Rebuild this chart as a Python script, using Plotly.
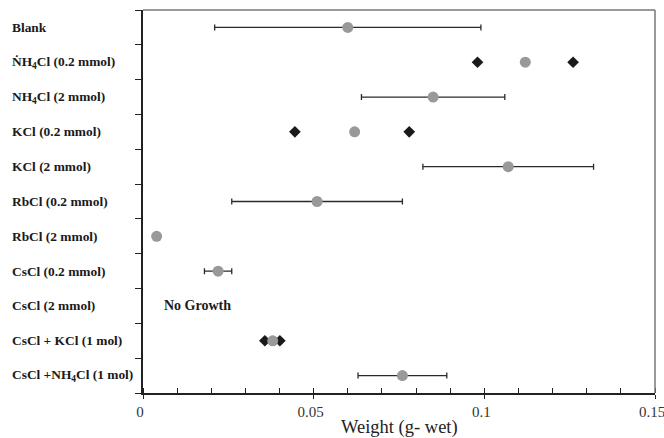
import plotly.graph_objects as go

categories = [
    "Blank",
    "ṄH<sub>4</sub>Cl (0.2 mmol)",
    "NH<sub>4</sub>Cl (2 mmol)",
    "KCl (0.2 mmol)",
    "KCl (2 mmol)",
    "RbCl (0.2 mmol)",
    "RbCl (2 mmol)",
    "CsCl (0.2 mmol)",
    "CsCl (2 mmol)",
    "CsCl + KCl (1 mol)",
    "CsCl +NH<sub>4</sub>Cl (1 mol)",
]
means = [0.060, 0.112, 0.085, 0.062, 0.107, 0.051, 0.004, 0.022, None, 0.038, 0.076]
errors = [0.039, None, 0.021, None, 0.025, 0.025, None, 0.004, None, None, 0.013]
range_min = [None, 0.098, None, 0.0445, None, None, None, None, None, 0.0357, None]
range_max = [None, 0.126, None, 0.078, None, None, None, None, None, 0.0401, None]
xtick_vals = [0, 0.05, 0.1, 0.15]
xtick_text = ["0", "0.05", "0.1", "0.15"]
no_growth_row = "CsCl (2 mmol)"

ids = list(range(len(categories)))
serif = "Liberation Serif"

fig = go.Figure()

# error bars
eb_x, eb_y, eb_e = [], [], []
for i, (m, e) in enumerate(zip(means, errors)):
    if m is not None and e is not None:
        eb_x.append(m); eb_y.append(i); eb_e.append(e)
fig.add_trace(go.Scatter(
    x=eb_x, y=eb_y, mode="markers",
    marker=dict(size=1, opacity=0),
    error_x=dict(type="data", array=eb_e, symmetric=True,
                 color="#2a2a2a", thickness=1.3, width=3),
    showlegend=False, hoverinfo="skip"))

# min/max diamonds
dx, dy = [], []
for i in ids:
    if range_min[i] is not None:
        dx += [range_min[i], range_max[i]]
        dy += [i, i]
fig.add_trace(go.Scatter(
    x=dx, y=dy, mode="markers",
    marker=dict(symbol="diamond", size=9, color="#1a1a1a"),
    showlegend=False))

# means
mx, my = [], []
for i, m in enumerate(means):
    if m is not None:
        mx.append(m); my.append(i)
fig.add_trace(go.Scatter(
    x=mx, y=my, mode="markers",
    marker=dict(symbol="circle", size=11, color="#999999"),
    showlegend=False))

annotations = []
for i, c in enumerate(categories):
    annotations.append(dict(
        x=-0.26, xref="paper", y=i, yref="y", text="<b>" + c + "</b>", showarrow=False,
        xanchor="left", yanchor="middle",
        font=dict(family=serif, size=13.4, color="#1a1a1a")))
annotations.append(dict(
    x=0.0055, y=categories.index(no_growth_row), xref="x", yref="y",
    text="<b>No Growth</b>", showarrow=False, xanchor="left", yanchor="middle",
    font=dict(family=serif, size=14, color="#1a1a1a")))
annotations.append(dict(
    x=0.5, xref="paper", y=-0.091, yref="paper", text="Weight (g- wet)",
    showarrow=False, xanchor="center", yanchor="middle",
    font=dict(family=serif, size=18.5, color="#222222")))

fig.update_layout(
    width=664, height=438,
    margin=dict(l=143, r=9, t=10, b=45),
    paper_bgcolor="white", plot_bgcolor="white",
    annotations=annotations,
    shapes=[
        dict(type="line", xref="paper", yref="paper", x0=0, x1=1, y0=1, y1=1,
             line=dict(color="#777777", width=1.5)),
        dict(type="line", xref="paper", yref="paper", x0=1, x1=1, y0=0, y1=1,
             line=dict(color="#777777", width=1.5)),
    ],
    xaxis=dict(
        range=[0, 0.15], tickvals=xtick_vals, ticktext=xtick_text,
        automargin=False, ticklabeloverflow="allow", ticklabelshift=-3,
        showgrid=False, zeroline=False, showline=True, linecolor="#222222",
        linewidth=2, ticks="outside", ticklen=4, tickcolor="#222222",
        tickfont=dict(family=serif, size=15, color="#333333"),
        minor=dict(dtick=0.01, tick0=0, ticks="inside", ticklen=5,
                   tickcolor="#222222", showgrid=False),
    ),
    yaxis=dict(
        range=[len(categories) - 0.5, -0.5],
        tickvals=[i - 0.5 for i in range(len(categories) + 1)],
        showticklabels=False, automargin=False,
        showgrid=False, zeroline=False, showline=True, linecolor="#222222",
        linewidth=2, ticks="outside", ticklen=6, tickcolor="#222222",
    ),
)

fig.write_html("out.html", config={"displayModeBar": False},
               post_script="document.body.style.margin='0';")
